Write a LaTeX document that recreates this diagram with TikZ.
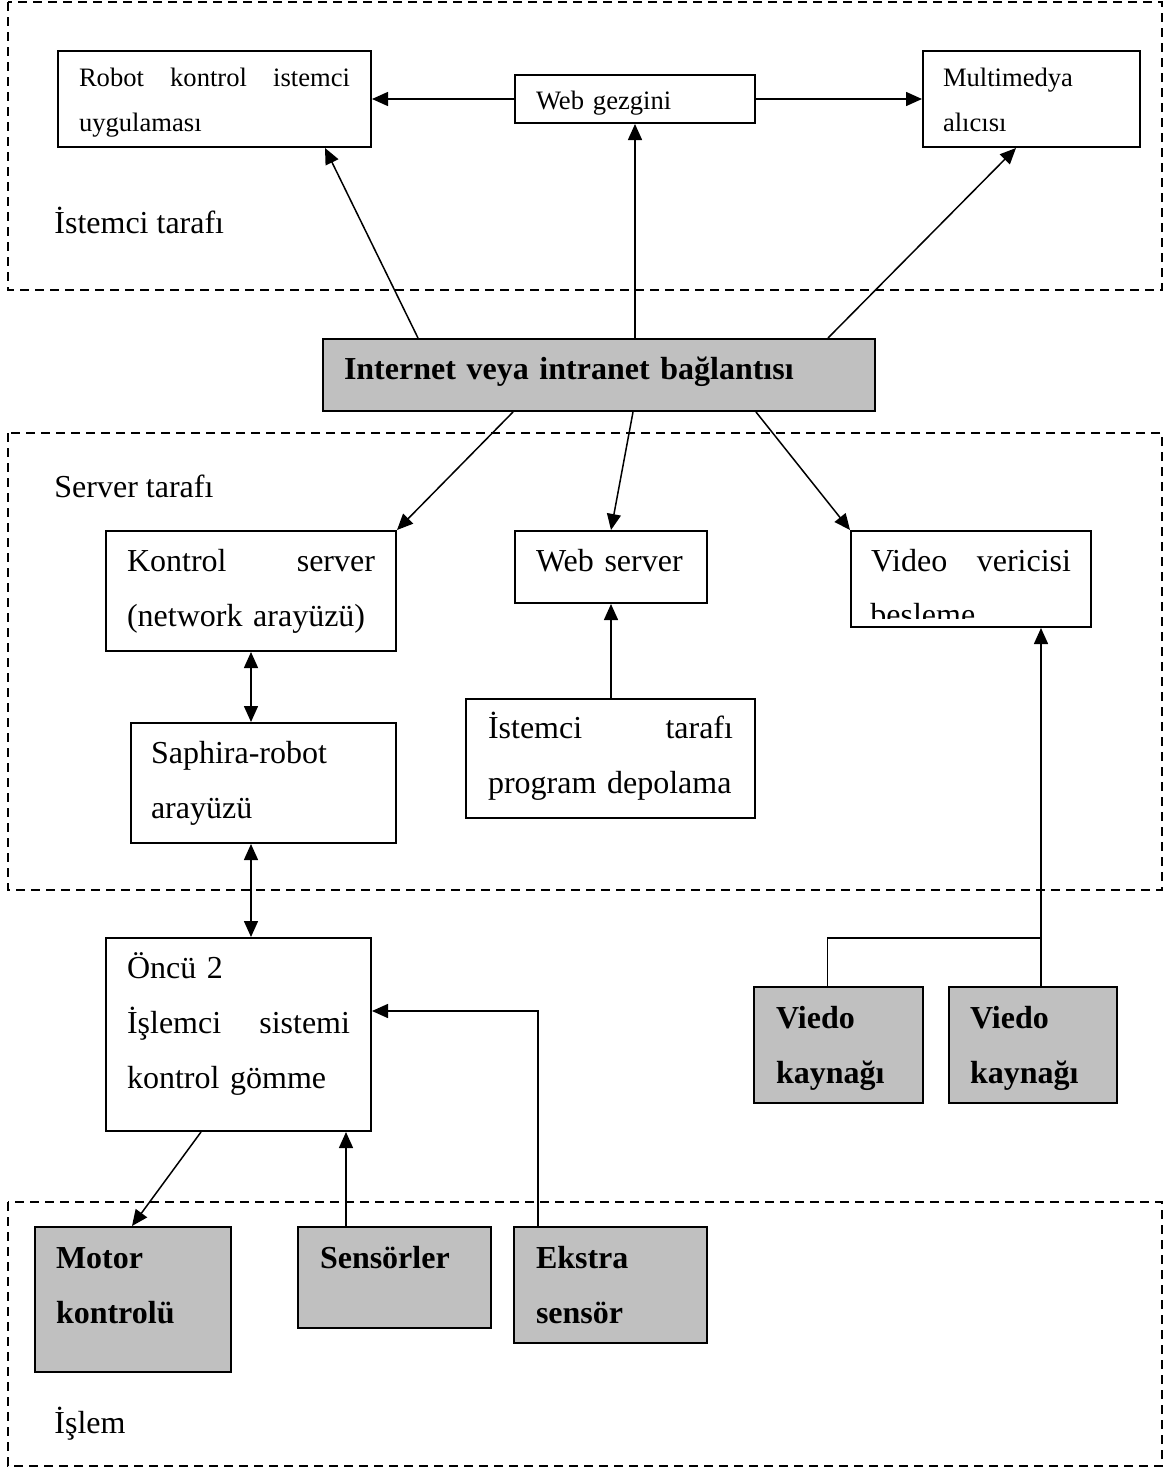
\documentclass[tikz,border=0pt]{standalone}
\usepackage{fontspec}
\setmainfont{Liberation Serif}
\usepackage{tikz}
\usetikzlibrary{positioning}
\usetikzlibrary{arrows.meta}
\definecolor{kutugri}{RGB}{192,192,192}
\newcommand{\buyuk}{\fontsize{16}{27.5}\selectfont}
\newcommand{\kucuk}{\fontsize{13.3}{22.5}\selectfont}
\newcommand{\satir}[1]{\leavevmode\hbox to\linewidth{#1}} % justified line
\tikzset{x=0.5pt, y=-0.5pt, % One unit is one pixel of the sketch, y runs down
kutu/.style={ % Sets the properties for each box
draw, line width=1pt, rectangle, anchor=north west,
inner ysep=0pt, inner xsep=10.5pt, align=left, font=\buyuk},
gri/.style={ % Hardware boxes, grey and bold
kutu, fill=kutugri, font=\buyuk\bfseries},
bolge/.style={ % Dashed frame round each side
draw, dash pattern=on 4.5pt off 3pt, line width=0.75pt},
etiket/.style={anchor=base west, font=\buyuk, inner sep=0pt},
ok/.style={draw, -{Triangle[length=8pt,width=7pt]}, line width=0.75pt},
hat/.style={draw, line width=0.75pt},
every edge/.style={ % Sets the properties for each connector
draw,
-{Triangle[length=8pt,width=7pt]}, % filled arrow heads
line width=0.75pt},
cift/.style={{Triangle[length=8pt,width=7pt]}-{Triangle[length=8pt,width=7pt]}}}
\begin{document}
\begin{tikzpicture}
\useasboundingbox (0,0) rectangle (1174,1467);

% frames
\draw[bolge] (8,2) rectangle (1162,290);
\draw[bolge] (8,433) rectangle (1162,890);
\draw[bolge] (8,1202) rectangle (1162,1466);
\node[etiket] (istlbl) at (54,233) {İstemci tarafı};
\node[etiket] (srvlbl) at (54,497) {Server tarafı};
\node[etiket] (islbl) at (54,1433) {İşlem};

% client side
\node[kutu, font=\kucuk, text width=135.5pt, text height=17.5pt, text depth=30.5pt] (robot) at (57,50) {\satir{Robot\hfill kontrol\hfill istemci}\\uygulaması};
\node[kutu, font=\kucuk, text width=99pt, text height=17pt, text depth=7pt] (webgez) at (514,74) {Web gezgini};
\node[kutu, font=\kucuk, inner xsep=10pt, text width=88.5pt, text height=17.5pt, text depth=30.5pt] (medya) at (922,50) {Multimedya\\alıcısı};

\node[gri, text width=255pt, text height=20pt, text depth=16pt] (net) at (322,338) {Internet veya intranet bağlantısı};

% server side
\node[kutu, text width=124pt, text height=20pt, text depth=40pt] (ksrv) at (105,530) {\satir{Kontrol\hfill server}\\(network arayüzü)};
\node[kutu, text width=75pt, text height=20pt, text depth=16pt] (wsrv) at (514,530) {Web server};
\node[kutu, inner xsep=10pt, text width=100pt, text height=20pt, text depth=28pt] (vsrv) at (850,530) {\satir{Video\hfill vericisi}};
\begin{scope}
\clip (vsrv.north west) rectangle ([yshift=5pt]vsrv.south east);
\node[etiket] (besl) at (870,625) {besleme};
\end{scope}
\node[kutu, inner xsep=10pt, text width=112.5pt, text height=20pt, text depth=40pt] (saph) at (130,722) {Saphira-robot\\arayüzü};
\node[kutu, inner xsep=11pt, text width=122.5pt, text height=19.5pt, text depth=40pt] (prog) at (465,698) {\satir{İstemci\hfill tarafı}\\program depolama};

% robot side
\node[kutu, text width=111.5pt, text height=20pt, text depth=76.5pt] (oncu) at (105,937) {Öncü 2\\\satir{İşlemci\hfill sistemi}\\kontrol gömme};
\node[gri, inner xsep=11pt, text width=62.5pt, text height=20.5pt, text depth=37.5pt] (kay1) at (753,986) {Viedo\\kaynağı};
\node[gri, inner xsep=10.5pt, text width=63pt, text height=20.5pt, text depth=37.5pt, right=12pt of kay1] (kay2) {Viedo\\kaynağı};
\node[gri, text width=77pt, text height=20.5pt, text depth=52pt] (motor) at (34,1226) {Motor\\kontrolü};
\node[gri, inner xsep=11pt, text width=74.5pt, text height=20.5pt, text depth=30pt] (sens) at (297,1226) {Sensörler};
\node[gri, inner xsep=11pt, text width=74.5pt, text height=20.5pt, text depth=37.5pt] (ekst) at (513,1226) {Ekstra\\sensör};

% connectors
\draw (webgez) edge (robot);
\draw (webgez) edge (medya);
\draw ([xshift=48pt]net.north west) edge ([xshift=-23.5pt]robot.south east);
\draw (net.north -| webgez.south) edge (webgez.south);
\draw ([xshift=-24pt]net.north east) edge ([xshift=47pt]medya.south west);
\draw ([xshift=95.5pt]net.south west) edge (ksrv.north east);
\draw ([xshift=155.5pt]net.south west) edge (wsrv.north);
\draw ([xshift=-60pt]net.south east) edge (vsrv.north west);
\draw (ksrv.south) edge[cift] (ksrv.south |- saph.north);
\draw (ksrv.south |- saph.south) edge[cift] (ksrv.south |- oncu.north);
\draw (wsrv.south |- prog.north) edge (wsrv.south);

\coordinate (vkol) at (1041,938);
\draw[hat] ([xshift=-5.5pt]kay1.north) |- (vkol);
\draw (kay2.north -| vkol) edge (vsrv.south -| vkol);

\draw[ok] ([xshift=12.5pt]ekst.north west) |- ([yshift=11.75pt]oncu.east);
\coordinate (skol) at ([xshift=24.5pt]sens.north west);
\draw (skol) edge (skol |- oncu.south);
\draw ([xshift=48pt]oncu.south west) edge ([xshift=49pt]motor.north west);
\end{tikzpicture}
\end{document}
